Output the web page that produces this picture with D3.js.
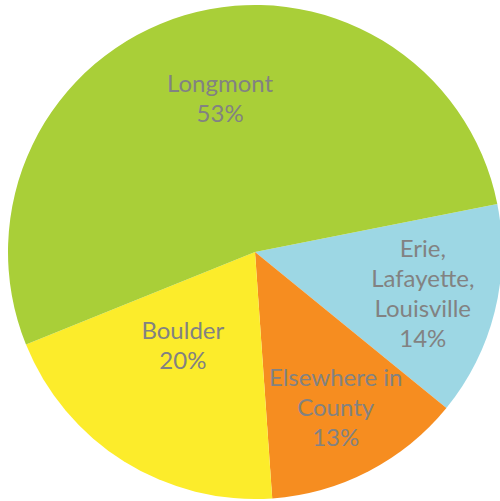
<!DOCTYPE html>
<html>
<head>
<meta charset="utf-8">
<script src="https://cdn.jsdelivr.net/npm/d3@7"></script>
<style>
  html, body { margin: 0; padding: 0; background: #fff; }
</style>
</head>
<body>
<script>
/* data */
const categories = ['Erie, Lafayette, Louisville', 'Elsewhere in County', 'Boulder', 'Longmont'];
const labelLines = [['Erie,', 'Lafayette,', 'Louisville'], ['Elsewhere in', 'County'], ['Boulder'], ['Longmont']];
const shares = [14, 13, 20, 53];
const colors = ['#9dd7e4', '#f68d20', '#fcec2b', '#a9cf38'];

/* canvas */
const width = 500;
const height = 501;
const cx = 255, cy = 252, radius = 247;
// label distance from centre, as fraction of radius, per slice
const labelR = [0.70, 0.71, 0.48, 0.637];
const labelShift = [0, 0, 0.096, 0.066]; // small angular nudges (radians)

const svg = d3.select('body').append('svg')
      .attr('width', width).attr('height', height);

const g = svg.append('g').attr('transform', 'translate(' + cx + ',' + cy + ')');

const pie = d3.pie().sort(null).value(d => d)
      .startAngle(78.8 * Math.PI / 180)
      .endAngle(78.8 * Math.PI / 180 + 2 * Math.PI);
const arcs = pie(shares);

const arc = d3.arc().innerRadius(0).outerRadius(radius);

g.selectAll('path').data(arcs).enter().append('path')
   .attr('d', arc)
   .attr('fill', (d, i) => colors[i]);

/* labels */
const lineH = 30;
const labels = g.selectAll('text.lbl').data(arcs).enter().append('text')
   .attr('class', 'lbl')
   .attr('text-anchor', 'middle')
   .attr('font-family', 'Lato, "Open Sans", sans-serif')
   .attr('font-size', 24)
   .attr('fill', '#828282')
   .attr('transform', function(d, i) {
      const a = (d.startAngle + d.endAngle) / 2 + labelShift[i];
      const r = radius * labelR[i];
      const x = Math.sin(a) * r;
      const y = -Math.cos(a) * r;
      const n = labelLines[i].length + 1;
      const top = y - (n - 1) * lineH / 2 + 8;
      return 'translate(' + x + ',' + top + ')';
   });

labels.each(function(d, i) {
   const t = d3.select(this);
   labelLines[i].forEach((s, k) => {
      t.append('tspan').attr('x', 0).attr('dy', k === 0 ? 0 : lineH).text(s);
   });
   t.append('tspan').attr('x', 0).attr('dy', lineH).text(shares[i] + '%');
});
</script>
</body>
</html>
